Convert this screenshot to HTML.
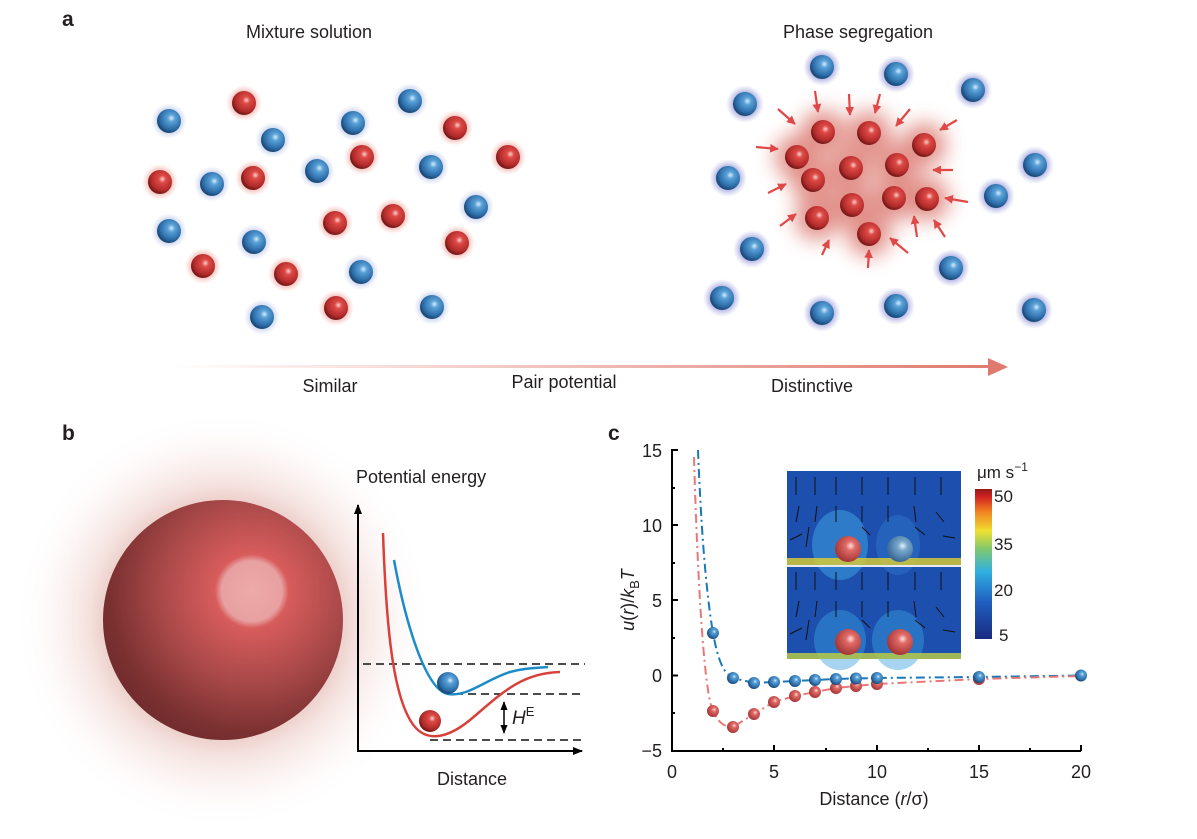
<!DOCTYPE html>
<html><head><meta charset="utf-8"><style>
html,body{margin:0;padding:0;background:#fff}
svg{display:block}
text{font-family:"Liberation Sans",sans-serif;fill:#231f20}
</style></head><body>
<svg width="1197" height="839" viewBox="0 0 1197 839" xmlns="http://www.w3.org/2000/svg">
<defs>
<radialGradient id="gb" cx="0.6" cy="0.38" r="0.6"><stop offset="0" stop-color="#d8ecfa"/><stop offset="0.25" stop-color="#5aa2d8"/><stop offset="0.8" stop-color="#2a6aa6"/><stop offset="1" stop-color="#1d4a78"/></radialGradient>
<radialGradient id="gr" cx="0.6" cy="0.38" r="0.6"><stop offset="0" stop-color="#f8d0cc"/><stop offset="0.25" stop-color="#de4a46"/><stop offset="0.8" stop-color="#b02a2a"/><stop offset="1" stop-color="#7a1a1a"/></radialGradient>
<radialGradient id="hb"><stop offset="0.5" stop-color="#7d7fd0" stop-opacity="0.8"/><stop offset="1" stop-color="#a8aae0" stop-opacity="0"/></radialGradient>
<radialGradient id="hr"><stop offset="0.5" stop-color="#e88a80" stop-opacity="0.8"/><stop offset="1" stop-color="#f0b0a8" stop-opacity="0"/></radialGradient>
<radialGradient id="hb2"><stop offset="0.5" stop-color="#9aaad8" stop-opacity="0.7"/><stop offset="1" stop-color="#b8c4e8" stop-opacity="0"/></radialGradient>
<g id="B"><circle r="19" fill="url(#hb)"/><circle r="12" fill="url(#gb)"/></g>
<g id="B2"><circle r="18" fill="url(#hb2)"/><circle r="12" fill="url(#gb)"/></g>
<g id="R2"><circle r="18" fill="url(#hr)"/><circle r="12" fill="url(#gr)"/></g>
<g id="R"><circle r="12" fill="url(#gr)"/></g>
<filter id="blur" x="-50%" y="-50%" width="200%" height="200%"><feGaussianBlur stdDeviation="10"/></filter>
<linearGradient id="arr" x1="0" x2="1"><stop offset="0" stop-color="#fff"/><stop offset="1" stop-color="#e07a6e"/></linearGradient>
<radialGradient id="bigglow"><stop offset="0.45" stop-color="#d08a80" stop-opacity="0.7"/><stop offset="0.65" stop-color="#e8c0b8" stop-opacity="0.45"/><stop offset="1" stop-color="#fff" stop-opacity="0"/></radialGradient>
<radialGradient id="big" cx="0.62" cy="0.38" r="0.7"><stop offset="0" stop-color="#ecaaa8"/><stop offset="0.18" stop-color="#e8a0a0"/><stop offset="0.22" stop-color="#d85c5c"/><stop offset="0.55" stop-color="#a84848"/><stop offset="0.85" stop-color="#7a3030"/><stop offset="1" stop-color="#6e2a2e"/></radialGradient>
<marker id="ma" viewBox="0 0 10 10" refX="9" refY="5" markerWidth="4" markerHeight="4" orient="auto"><path d="M0,0L10,5L0,10z" fill="#e04848"/></marker>
<marker id="mk" viewBox="0 0 10 10" refX="9" refY="5" markerWidth="5" markerHeight="5" orient="auto"><path d="M0,1L10,5L0,9z" fill="#000"/></marker>
<marker id="mk2" viewBox="0 0 10 10" refX="9" refY="5" markerWidth="6" markerHeight="6" orient="auto-start-reverse"><path d="M0,1L10,5L0,9z" fill="#000"/></marker>
<linearGradient id="cb" x1="0" y1="1" x2="0" y2="0"><stop offset="0" stop-color="#1a2a80"/><stop offset="0.25" stop-color="#2060c0"/><stop offset="0.45" stop-color="#30b0e0"/><stop offset="0.6" stop-color="#80c870"/><stop offset="0.72" stop-color="#f0e030"/><stop offset="0.85" stop-color="#f08020"/><stop offset="0.95" stop-color="#d02020"/><stop offset="1" stop-color="#901818"/></linearGradient>
<radialGradient id="bg2" cx="0.6" cy="0.38" r="0.6"><stop offset="0" stop-color="#e8f0f8"/><stop offset="0.3" stop-color="#7aa8cc"/><stop offset="1" stop-color="#3a6a98"/></radialGradient>
<radialGradient id="rg2" cx="0.6" cy="0.38" r="0.6"><stop offset="0" stop-color="#fde0dc"/><stop offset="0.3" stop-color="#e06a66"/><stop offset="1" stop-color="#a83838"/></radialGradient>
</defs>

<text x="62" y="26" font-weight="bold" font-size="21">a</text>
<text x="309" y="38" font-size="18" text-anchor="middle">Mixture solution</text>
<text x="858" y="38" font-size="18" text-anchor="middle">Phase segregation</text>

<g>
<use href="#B2" x="169" y="121"/><use href="#B2" x="273" y="140"/><use href="#B2" x="353" y="123"/><use href="#B2" x="410" y="101"/><use href="#B2" x="317" y="171"/><use href="#B2" x="431" y="167"/><use href="#B2" x="212" y="184"/><use href="#B2" x="476" y="207"/><use href="#B2" x="169" y="231"/><use href="#B2" x="254" y="242"/><use href="#B2" x="361" y="272"/><use href="#B2" x="262" y="317"/><use href="#B2" x="432" y="307"/>
<use href="#R2" x="244" y="103"/><use href="#R2" x="455" y="128"/><use href="#R2" x="362" y="157"/><use href="#R2" x="508" y="157"/><use href="#R2" x="160" y="182"/><use href="#R2" x="253" y="178"/><use href="#R2" x="393" y="216"/><use href="#R2" x="335" y="223"/><use href="#R2" x="457" y="243"/><use href="#R2" x="203" y="266"/><use href="#R2" x="286" y="274"/><use href="#R2" x="336" y="308"/>
</g>

<g filter="url(#blur)" fill="#d86a60" opacity="0.75">
<circle cx="823" cy="132" r="22"/><circle cx="869" cy="133" r="22"/><circle cx="924" cy="145" r="22"/><circle cx="797" cy="157" r="22"/><circle cx="851" cy="168" r="22"/><circle cx="897" cy="165" r="22"/><circle cx="813" cy="180" r="22"/><circle cx="852" cy="205" r="22"/><circle cx="894" cy="198" r="22"/><circle cx="927" cy="199" r="22"/><circle cx="817" cy="218" r="22"/><circle cx="869" cy="234" r="22"/>
</g>
<g>
<use href="#R" x="823" y="132"/><use href="#R" x="869" y="133"/><use href="#R" x="924" y="145"/><use href="#R" x="797" y="157"/><use href="#R" x="851" y="168"/><use href="#R" x="897" y="165"/><use href="#R" x="813" y="180"/><use href="#R" x="852" y="205"/><use href="#R" x="894" y="198"/><use href="#R" x="927" y="199"/><use href="#R" x="817" y="218"/><use href="#R" x="869" y="234"/>
<use href="#B" x="822" y="67"/><use href="#B" x="896" y="74"/><use href="#B" x="973" y="90"/><use href="#B" x="745" y="104"/><use href="#B" x="728" y="178"/><use href="#B" x="1035" y="165"/><use href="#B" x="996" y="196"/><use href="#B" x="752" y="249"/><use href="#B" x="951" y="268"/><use href="#B" x="722" y="298"/><use href="#B" x="822" y="313"/><use href="#B" x="896" y="306"/><use href="#B" x="1034" y="310"/>
</g>
<g stroke="#e04848" stroke-width="2.2" marker-end="url(#ma)">
<line x1="815" y1="91" x2="818" y2="112"/><line x1="849" y1="94" x2="850" y2="115"/><line x1="880" y1="94" x2="875" y2="113"/><line x1="910" y1="109" x2="896" y2="126"/><line x1="957" y1="120" x2="940" y2="130"/><line x1="778" y1="109" x2="795" y2="124"/><line x1="756" y1="147" x2="778" y2="149"/><line x1="953" y1="170" x2="933" y2="170"/><line x1="968" y1="202" x2="945" y2="198"/><line x1="768" y1="193" x2="786" y2="184"/><line x1="780" y1="226" x2="796" y2="214"/><line x1="822" y1="255" x2="829" y2="240"/><line x1="868" y1="268" x2="869" y2="250"/><line x1="908" y1="253" x2="890" y2="238"/><line x1="917" y1="237" x2="914" y2="216"/><line x1="945" y1="237" x2="934" y2="220"/>
</g>

<rect x="170" y="365" width="822" height="3" fill="url(#arr)"/>
<path d="M988,358 L1008,367 L988,376 Z" fill="#e07a6e"/>
<text x="330" y="392" font-size="18" text-anchor="middle">Similar</text>
<text x="564" y="388" font-size="18" text-anchor="middle">Pair potential</text>
<text x="812" y="392" font-size="18" text-anchor="middle">Distinctive</text>

<text x="62" y="440" font-weight="bold" font-size="21">b</text>
<ellipse cx="223" cy="620" rx="210" ry="210" fill="url(#bigglow)"/>
<circle cx="223" cy="620" r="120" fill="url(#big)"/>
<text x="356" y="483" font-size="18">Potential energy</text>
<line x1="358" y1="751" x2="358" y2="505" stroke="#000" stroke-width="2" marker-end="url(#mk)"/>
<line x1="357" y1="751" x2="582" y2="751" stroke="#000" stroke-width="2" marker-end="url(#mk)"/>
<g stroke="#111" stroke-width="1.5" stroke-dasharray="8,5">
<line x1="363" y1="664" x2="585" y2="664"/><line x1="455" y1="694" x2="585" y2="694"/><line x1="430" y1="740" x2="585" y2="740"/>
</g>
<path d="M383,533 C386,620 392,700 415,727 C428,742 448,738 470,720 C500,695 520,673 560,672" fill="none" stroke="#d8403a" stroke-width="2.5"/>
<path d="M394,560 C405,620 425,690 448,694 C468,697 485,680 510,672 C525,668 535,668 548,667" fill="none" stroke="#1c8cc8" stroke-width="2.5"/>
<circle cx="448" cy="683" r="11" fill="url(#gb)"/>
<circle cx="430" cy="721" r="11" fill="url(#gr)"/>
<line x1="504" y1="702" x2="504" y2="733" stroke="#000" stroke-width="1.5" marker-end="url(#mk2)" marker-start="url(#mk2)"/>
<text x="512" y="724" font-size="19" font-style="italic">H<tspan font-size="13" font-style="normal" dy="-8">E</tspan></text>
<text x="472" y="785" font-size="18" text-anchor="middle">Distance</text>

<text x="608" y="440" font-weight="bold" font-size="21">c</text>
<g stroke="#000" stroke-width="2" fill="none">
<line x1="672" y1="449" x2="672" y2="751"/><line x1="671" y1="751" x2="1081" y2="751"/>
<path d="M672,450h6M672,525h6M672,600h6M672,675.5h6M672,751h6M672,488h3M672,563h3M672,638h3M672,713h3"/>
<path d="M672,751v-6M774,751v-6M877,751v-6M979,751v-6M1081,751v-6M723,751v-3M826,751v-3M928,751v-3M1030,751v-3"/>
</g>
<g font-size="18" text-anchor="end">
<text x="662" y="457">15</text><text x="662" y="532">10</text><text x="662" y="607">5</text><text x="662" y="682">0</text><text x="662" y="757">−5</text>
</g>
<g font-size="18" text-anchor="middle">
<text x="672" y="778">0</text><text x="774" y="778">5</text><text x="877" y="778">10</text><text x="979" y="778">15</text><text x="1081" y="778">20</text>
</g>
<text x="874" y="805" font-size="18" text-anchor="middle">Distance (<tspan font-style="italic">r</tspan>/σ)</text>
<text transform="translate(634,600) rotate(-90)" font-size="18" text-anchor="middle"><tspan font-style="italic">u</tspan>(<tspan font-style="italic">r</tspan>)/<tspan font-style="italic">k</tspan><tspan font-size="13" dy="5">B</tspan><tspan font-style="italic" dy="-5">T</tspan></text>

<path d="M698,450 C700,500 704,580 713,633 C718,660 723,673 733,678 L754,683 L774,682 L795,681 L815,680 L836,679 L856,678.5 L877,678 L979,677 L1081,675.5" fill="none" stroke="#1a78b8" stroke-width="2" stroke-dasharray="9,4,2,4"/>
<path d="M694,457 C697,560 703,690 713,711 C718,722 725,728 733,727 L754,714 L774,702 L795,696 L815,692 L836,688 L856,686 L877,684 L979,679 L1081,676" fill="none" stroke="#e87878" stroke-width="2" stroke-dasharray="9,4,2,4"/>
<g fill="url(#rg2)">
<circle cx="713" cy="711" r="6"/><circle cx="733" cy="727" r="6"/><circle cx="754" cy="714" r="6"/><circle cx="774" cy="702" r="6"/><circle cx="795" cy="696" r="6"/><circle cx="815" cy="692" r="6"/><circle cx="836" cy="688" r="6"/><circle cx="856" cy="686" r="6"/><circle cx="877" cy="684" r="6"/><circle cx="979" cy="679" r="6"/>
</g>
<g fill="url(#gb)">
<circle cx="713" cy="633" r="6"/><circle cx="733" cy="678" r="6"/><circle cx="754" cy="683" r="6"/><circle cx="774" cy="682" r="6"/><circle cx="795" cy="681" r="6"/><circle cx="815" cy="680" r="6"/><circle cx="836" cy="679" r="6"/><circle cx="856" cy="678.5" r="6"/><circle cx="877" cy="678" r="6"/><circle cx="979" cy="677" r="6"/><circle cx="1081" cy="675.5" r="6"/>
</g>

<rect x="787" y="471" width="174" height="94" fill="#1d4fae"/>
<rect x="787" y="567" width="174" height="92" fill="#1d4fae"/>
<ellipse cx="840" cy="545" rx="28" ry="35" fill="#3aa0e0" opacity="0.55"/>
<ellipse cx="898" cy="545" rx="22" ry="30" fill="#3080d0" opacity="0.4"/>
<ellipse cx="840" cy="640" rx="26" ry="30" fill="#3aa0e0" opacity="0.45"/>
<ellipse cx="898" cy="640" rx="26" ry="30" fill="#3aa0e0" opacity="0.45"/>
<rect x="787" y="558" width="174" height="7" fill="#e0d030" opacity="0.8"/>
<rect x="787" y="653" width="174" height="6" fill="#c0d040" opacity="0.8"/>
<rect x="787" y="565" width="174" height="2" fill="#e8e8f0"/>
<circle cx="848" cy="549" r="13" fill="url(#rg2)"/>
<circle cx="900" cy="549" r="13" fill="url(#bg2)"/>
<circle cx="848" cy="642" r="13" fill="url(#rg2)"/>
<circle cx="900" cy="642" r="13" fill="url(#rg2)"/>
<g stroke="#111" stroke-width="1">
<path d="M796,495v-18M815,495v-18M836,495v-18M862,495v-18M888,495v-18M915,495v-18M941,495v-18"/>
<path d="M796,522l3,-16M815,522l2,-16M836,522v-16M862,522v-16M888,522v-16M916,522l-2,-16M944,522l-8,-10"/>
<path d="M790,540l12,-6M806,547l3,-20M870,535l-8,-8M925,535l-10,-8M955,538l-12,-2"/>
<path d="M796,590v-18M815,590v-18M836,590v-18M862,590v-18M888,590v-18M915,590v-18M941,590v-18"/>
<path d="M796,617l3,-16M815,617l2,-16M836,617v-16M862,617v-16M888,617v-16M916,617l-2,-16M944,617l-8,-10"/>
<path d="M790,634l12,-6M806,640l3,-20M870,628l-8,-8M925,628l-10,-8M955,632l-12,-2"/>
</g>
<rect x="975" y="489" width="17" height="150" fill="url(#cb)"/>
<text x="977" y="478" font-size="17">μm s<tspan font-size="12" dy="-7">−1</tspan></text>
<g font-size="17">
<text x="994" y="502">50</text><text x="994" y="550">35</text><text x="994" y="596">20</text><text x="999" y="641">5</text>
</g>
</svg>
</body></html>
